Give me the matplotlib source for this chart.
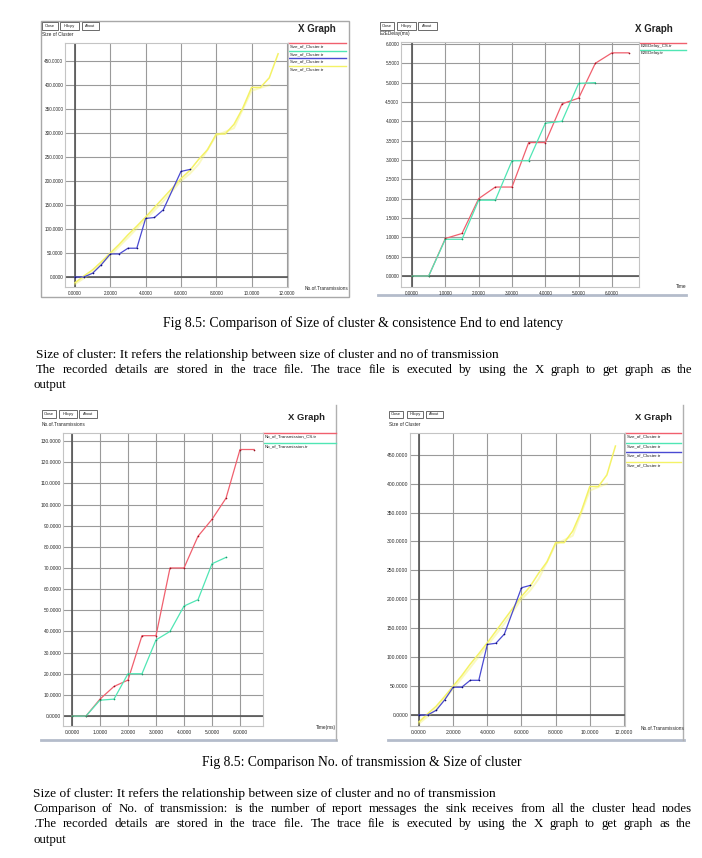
import matplotlib
matplotlib.use('Agg')
import matplotlib.pyplot as plt
from matplotlib.patches import Rectangle, Polygon

# ---------------- data ----------------
# Size of cluster vs No. of transmissions (panels A and D)
cluster_blue_x = [0, 0.5, 1, 1.5, 2, 2.5, 3, 3.5, 4, 4.5, 5, 6, 6.5]
cluster_blue_y = [0, 0, 8, 26, 48, 48, 60, 60, 122, 124, 140, 220, 224]
cluster_yel_x = [0, 0.5, 1, 1.5, 2, 2.5, 3, 3.5, 4, 4.5, 5, 5.5, 6, 6.5, 7, 7.5, 8, 8.5, 9, 9.5, 10, 10.5, 11, 11.5]
cluster_yel_y = [-12, 2, 15, 32, 50, 68, 88, 106, 125, 145, 165, 185, 205, 222, 245, 265, 298, 298, 318, 352, 395, 395, 415, 465]
cluster_yel2_x = [0, 1, 2, 3, 4, 5, 6, 6.5, 7, 8, 9, 10, 11]
cluster_yel2_y = [-15, 10, 45, 82, 120, 158, 200, 215, 235, 295, 310, 388, 400]

# E2E delay vs time (panel B)
e2e_cs_x = [0, 0.5, 1, 1.5, 2, 2.5, 3, 3.5, 4, 4.5, 5, 5.5, 6, 6.5]
e2e_cs_y = [0, 0, 0.97, 1.1, 2.0, 2.3, 2.3, 3.45, 3.45, 4.45, 4.6, 5.5, 5.77, 5.77]
e2e_x = [0, 0.5, 1, 1.5, 2, 2.5, 3, 3.5, 4, 4.5, 5, 5.5]
e2e_y = [0, 0, 0.95, 0.95, 1.96, 1.96, 2.98, 2.98, 3.95, 4.0, 4.98, 5.0]

# No. of transmissions vs time (panel C)
ntx_cs_x = [0, 0.5, 1, 1.5, 2, 2.5, 3, 3.5, 4, 4.5, 5, 5.5, 6, 6.5]
ntx_cs_y = [0, 0, 8, 14, 17, 38, 38, 70, 70, 85, 93, 103, 126, 126]
ntx_x = [0, 0.5, 1, 1.5, 2, 2.5, 3, 3.5, 4, 4.5, 5, 5.5]
ntx_y = [0, 0, 7.5, 8, 20, 20, 36, 40, 52, 55, 72, 75]

# ticks
cluster_xticks = [0, 2, 4, 6, 8, 10, 12]
cluster_yticks = [0, 50, 100, 150, 200, 250, 300, 350, 400, 450]
time_xticks = [0, 1, 2, 3, 4, 5, 6]
e2e_yticks = [0, 0.5, 1, 1.5, 2, 2.5, 3, 3.5, 4, 4.5, 5, 5.5, 6]
ntx_yticks = [0, 10, 20, 30, 40, 50, 60, 70, 80, 90, 100, 110, 120, 130]

# ---------------- style ----------------
RED, RED_D = '#f0606e', '#9a1020'
GREEN, GREEN_D = '#50e6b4', '#1e9a6a'
BLUE, BLUE_D = '#4a4ad2', '#101070'
YELLOW = '#f4f266'
UI = 'Liberation Sans'
SERIF = 'Liberation Serif'

W, H = 702, 858
fig = plt.figure(figsize=(W / 100, H / 100), dpi=100, facecolor='white')
bg = fig.add_axes([0, 0, 1, 1])
bg.set_xlim(0, W)
bg.set_ylim(H, 0)
bg.axis('off')
R = fig.canvas.get_renderer()


def make_axes(box, xlim, ylim, xticks, yticks, lsize):
    x0, y0, x1, y1 = box
    ax = fig.add_axes([x0 / W, 1 - y1 / H, (x1 - x0) / W, (y1 - y0) / H])
    ax.set_xlim(xlim)
    ax.set_ylim(ylim)
    ax.set_xticks(xticks)
    ax.set_yticks(yticks)
    ax.set_xticklabels([f'{v:.4f}' for v in xticks])
    ax.set_yticklabels([f'{v:.4f}' for v in yticks])
    ax.tick_params(length=0, labelsize=lsize, labelcolor='#2a2a2a', labelfontfamily=UI)
    ax.tick_params(axis='x', pad=3)
    ax.tick_params(axis='y', pad=1.2)
    ax.grid(True, color='#9a9a9a', lw=0.8)
    ax.set_axisbelow(True)
    ax.axhline(0, color='#555555', lw=1.2, zorder=1.5)
    ax.axvline(0, color='#555555', lw=1.2, zorder=1.5)
    for s in ax.spines.values():
        s.set_color('#c4c4c4')
        s.set_linewidth(0.8)
    return ax


def series(ax, x, y, c, cd, lw=0.9, ms=1.2, alpha=1.0, marker=True):
    ax.plot(x, y, color=c, lw=lw, alpha=alpha, zorder=3)
    if marker:
        ax.plot(x, y, ls='none', marker='o', ms=ms, mew=0, color=cd, zorder=4)


def ui_text(x, y, s, size=3.4, **kw):
    kw.setdefault('va', 'center')
    kw.setdefault('ha', 'left')
    return bg.text(x, y, s, fontsize=size, family=UI, color='#222222', **kw)


def buttons(xs, y0, y1):
    for (a, b), lab in zip(xs, ['Close', 'Hdcpy', 'About']):
        bg.add_patch(Rectangle((a, y0), b - a, y1 - y0, fill=False, ec='#6a6a6a', lw=0.7))
        ui_text((a + b) / 2, (y0 + y1) / 2, lab, size=2.9, ha='center')


def legend(x0, x1, tx, ys, labels, colors):
    for y, lab, c in zip(ys, labels, colors):
        bg.plot([x0, x1], [y, y], color=c, lw=1.0)
        ui_text(tx, y + 3.2, lab, size=3.2)


# ---------------- panel A ----------------
bg.add_patch(Rectangle((41, 21), 308, 276, fill=False, ec='#a8a8a8', lw=1.0))
buttons([(42, 58), (60, 79), (82, 99)], 22, 29.5)
ui_text(42, 35, 'Size of Cluster')
ui_text(298, 29, 'X Graph', size=7, weight='bold')
ui_text(348, 288, 'No.of.Transmissions', ha='right')
legend(288, 346, 290, [43, 51, 58, 66], ['Size_of_Cluster.tr'] * 4, [RED, GREEN, BLUE, YELLOW])
axA = make_axes((65, 43, 288, 287), (-0.566, 12.06), (-20.8, 487.5),
                cluster_xticks, cluster_yticks, 3.3)
series(axA, cluster_yel2_x, cluster_yel2_y, YELLOW, YELLOW, lw=1.4, alpha=0.4, marker=False)
series(axA, cluster_yel_x, cluster_yel_y, YELLOW, YELLOW, lw=1.1, marker=False)
series(axA, cluster_blue_x, cluster_blue_y, BLUE, BLUE_D)

# ---------------- panel B ----------------
bg.plot([378, 686], [295, 295], color='#b4bccb', lw=2.0)
buttons([(380, 394), (397, 416), (418, 437)], 22, 29.5)
ui_text(380, 34, 'E2EDelay(ms)')
ui_text(635, 29, 'X Graph', size=7, weight='bold')
ui_text(686, 287, 'Time', ha='right')
legend(630, 686, 641, [43, 50], ['E2EDelay_CS.tr', 'E2EDelay.tr'], [RED, GREEN])
axB = make_axes((401, 42, 639, 287), (-0.33, 6.81), (-0.284, 6.05),
                time_xticks, e2e_yticks, 3.3)
series(axB, e2e_cs_x, e2e_cs_y, RED, RED_D)
series(axB, e2e_x, e2e_y, GREEN, GREEN_D)

# ---------------- panel C ----------------
bg.plot([41, 336], [740, 740], color='#b4bccb', lw=2.0)
bg.plot([336, 336], [405, 740], color='#b0b0b0', lw=1.0)
buttons([(42, 56), (59, 77), (79, 97)], 410, 417.5)
ui_text(42, 424, 'No.of.Transmissions')
ui_text(288, 417, 'X Graph', size=6.8, weight='bold')
ui_text(336, 728, 'Time(ms)', ha='right')
legend(263, 336, 265, [433, 443], ['No_of_Transmission_CS.tr', 'No_of_Transmission.tr'], [RED, GREEN])
axC = make_axes((63, 433, 263, 726), (-0.32, 6.82), (-4.7, 133.8),
                time_xticks, ntx_yticks, 3.5)
series(axC, ntx_cs_x, ntx_cs_y, RED, RED_D)
series(axC, ntx_x, ntx_y, GREEN, GREEN_D)

# ---------------- panel D ----------------
bg.plot([388, 684], [740, 740], color='#b4bccb', lw=2.0)
bg.plot([683, 683], [405, 740], color='#b0b0b0', lw=1.0)
buttons([(389, 403), (407, 423), (426, 443)], 410.5, 417.5)
ui_text(389, 424, 'Size of Cluster')
ui_text(635, 417, 'X Graph', size=6.8, weight='bold')
ui_text(684, 728, 'No.of.Transmissions', ha='right')
legend(625, 681, 627, [433, 443, 452, 462], ['Size_of_Cluster.tr'] * 4, [RED, GREEN, BLUE, YELLOW])
axD = make_axes((410, 433, 625, 726), (-0.527, 12.06), (-19.0, 487.5),
                cluster_xticks, cluster_yticks, 3.6)
series(axD, cluster_yel2_x, cluster_yel2_y, YELLOW, YELLOW, lw=1.4, alpha=0.4, marker=False)
series(axD, cluster_yel_x, cluster_yel_y, YELLOW, YELLOW, lw=1.1, marker=False)
series(axD, cluster_blue_x, cluster_blue_y, BLUE, BLUE_D)
# mouse pointer
bg.add_patch(Polygon([(476, 560), (476.5, 567), (478.3, 565.4), (481.5, 569.5), (482.8, 568.6),
                      (479.8, 564.3), (482.5, 563.8)], closed=True, fc='black', ec='black', lw=0.4))


# ---------------- document text ----------------
def put(x, y, s, size):
    return bg.text(x, y, s, fontsize=size, family=SERIF, color='black', va='baseline', ha='left')


def fit(x0, x1, y, s, size0=9.5):
    t = put(x0, y, s, size0)
    w = t.get_window_extent(R).width
    t.set_fontsize(size0 * (x1 - x0) / w)
    return t


def justify(x0, x1, y, s, size=9.3):
    words = s.split()
    ts = [put(0, y, w, size) for w in words]
    ws = [t.get_window_extent(R).width for t in ts]
    gap = (x1 - x0 - sum(ws)) / (len(words) - 1)
    x = x0
    for t, w in zip(ts, ws):
        t.set_x(x)
        x += w + gap


fit(163, 562, 327, 'Fig 8.5: Comparison of Size of cluster & consistence End to end latency')
put(36, 358, 'Size of cluster: It refers the relationship between size of cluster and no of transmission', 9.6)
justify(36, 693, 373, 'The recorded details are stored in the trace file. The trace file is executed by using the X graph to get graph as the')
put(33, 388, 'output', 9.3)

fit(202, 523, 766, 'Fig 8.5: Comparison No. of transmission & Size of cluster')
put(33, 797, 'Size of cluster: It refers the relationship between size of cluster and no of transmission', 9.6)
justify(33, 692, 812, 'Comparison of No. of transmission: is the number of report messages the sink receives from all the cluster head nodes')
justify(33, 692, 827, '.The recorded details are stored in the trace file. The trace file is executed by using the X graph to get graph as the')
put(33, 843, 'output', 9.3)

fig.savefig('out.png', dpi=100, facecolor='white')
